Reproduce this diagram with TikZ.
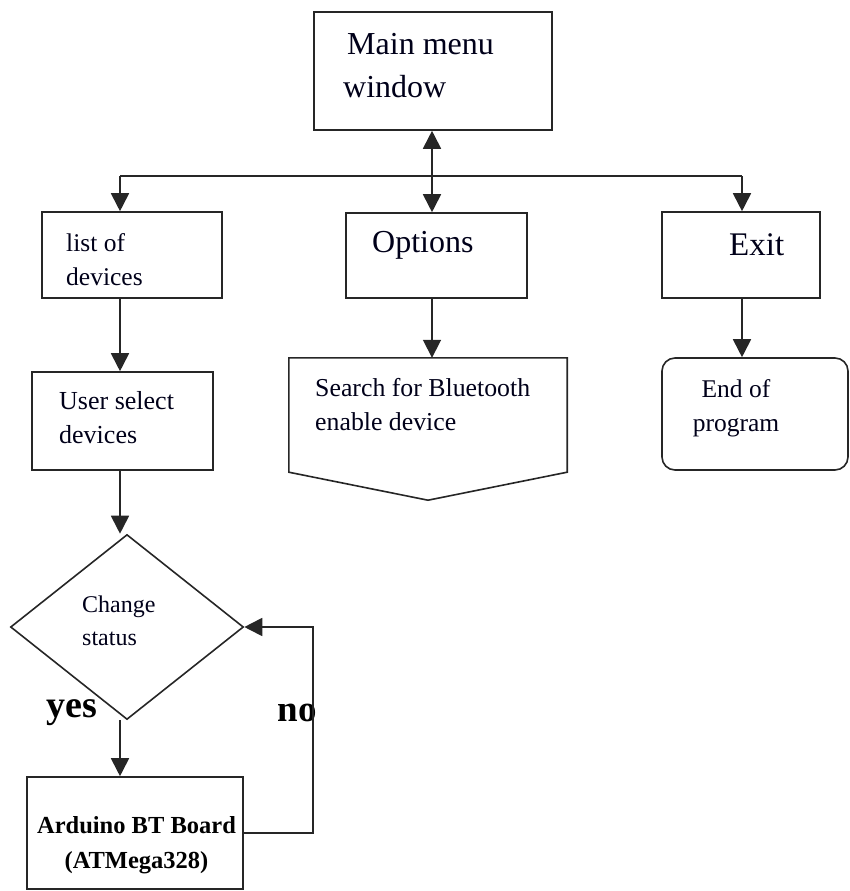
\documentclass[tikz,border=0pt]{standalone}
\usepackage{fontspec}
\setmainfont{Liberation Serif}
\usetikzlibrary{arrows.meta,shapes.geometric,calc}
\begin{document}
\begin{tikzpicture}[x=1pt,y=-1pt,
  box/.style={draw=black!85,line width=1.6pt,minimum width=#1,inner sep=0pt},
  txt/.style={inner sep=0pt,anchor=west,align=left,text=black!90!blue},
  conn/.style={line width=1.8pt,draw=black!85},
  tip/.tip={Triangle[width=18pt,length=18pt]},
  arr/.style={conn,-tip},
  f32/.style={font=\fontsize{32}{43}\selectfont},
  f26/.style={font=\fontsize{25.5}{34}\selectfont}]
\useasboundingbox (0,0) rectangle (849,891);
% boxes
\node[box=238pt,minimum height=118pt] (main) at (433,71) {};
\node[box=180pt,minimum height=86pt] (list) at (132,255) {};
\node[box=181pt,minimum height=85pt] (opt) at (436.5,255.5) {};
\node[box=158pt,minimum height=86pt] (exit) at (741,255) {};
\node[minimum width=278pt,minimum height=114pt,inner sep=0pt] (search) at (428,415) {};
\draw[line width=1.6pt,draw=black!85] (search.north west) -- (search.north east) -- (search.south east)
  -- ($(search.south)+(0,28)$) -- (search.south west) -- cycle;
\node[box=186pt,minimum height=112pt,rounded corners=13pt] (end) at (755,414) {};
\node[box=181pt,minimum height=98pt] (user) at (122.5,421) {};
\node[diamond,draw=black!85,line width=1.6pt,minimum width=233pt,minimum height=185pt,inner sep=0pt] (diam) at (127,627) {};
\node[box=216pt,minimum height=112pt] (board) at (135,833) {};
% texts
\node[txt,f32] (tmain) at (343,66) {\hspace{4pt}Main menu\\window};
\node[txt,f26] (tlist) at (66,260) {list of\\devices};
\node[txt,f32] (topt) at (372,245) {Options};
\node[txt,font=\fontsize{33}{43}\selectfont] (texit) at (729,245) {Exit};
\node[txt,font=\fontsize{25.8}{34}\selectfont] (tsearch) at (315,405) {Search for Bluetooth\\enable device};
\node[inner sep=0pt,align=center,f26,text=black!90!blue] (tend) at (736,408) {End of\\program};
\node[txt,font=\fontsize{26}{34}\selectfont] (tuser) at (59,418) {User select\\devices};
\node[inner sep=0pt,align=left,font=\fontsize{24}{33}\selectfont,anchor=west,text=black!90!blue] (tdiam) at (82,621) {Change\\status};
\node[inner sep=0pt,align=center,font=\bfseries\fontsize{24.5}{35}\selectfont] (tboard) at (136.5,845) {Arduino BT Board\\(ATMega328)};
\node[inner sep=0pt,font=\bfseries\fontsize{38}{40}\selectfont] (yes) at (72,713) {yes};
\node[inner sep=0pt,font=\bfseries\fontsize{37}{40}\selectfont] (no) at (297,713) {no};
% connectors
\coordinate (jl) at (120,176);
\coordinate (jr) at (742,176);
\coordinate (jm) at (432,176);
\draw[conn] (jl) -- (jr);
\draw[conn,tip-tip] (jm |- main.south) -- (jm |- opt.north);
\draw[arr] (jl) -- (jl |- list.north);
\draw[arr] (jr) -- (jr |- exit.north);
\draw[arr] (jm |- opt.south) -- (jm |- search.north);
\draw[arr] (jr |- exit.south) -- (jr |- end.north);
\draw[arr] (jl |- list.south) -- (jl |- user.north);
\draw[arr] (jl |- user.south) -- (jl |- diam.north);
\draw[arr] (jl |- diam.south) -- (jl |- board.north);
\coordinate (nl) at (313,627);
\draw[arr] (board.east) -- (board.east -| nl) -- (nl) -- (diam.east);
\end{tikzpicture}
\end{document}
